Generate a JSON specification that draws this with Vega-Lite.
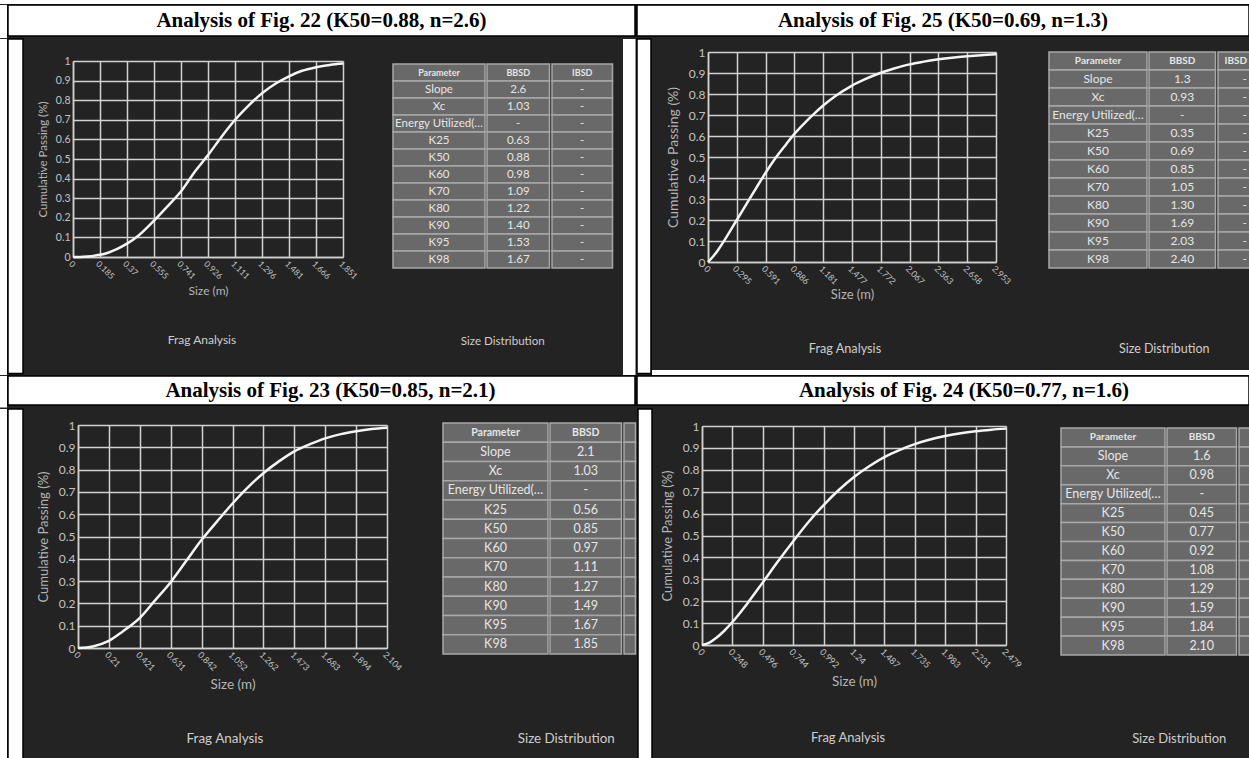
{
"$schema": "https://vega.github.io/schema/vega-lite/v6.json",
"background": "#232323",
"padding": 0,
"spacing": 0,
"datasets": {
"c22": [{"size":0,"passing":0},{"size":0.05,"passing":0.0005},{"size":0.1,"passing":0.003},{"size":0.15,"passing":0.007},{"size":0.185,"passing":0.011},{"size":0.25,"passing":0.024},{"size":0.3,"passing":0.04},{"size":0.37,"passing":0.068},{"size":0.45,"passing":0.11},{"size":0.555,"passing":0.185},{"size":0.65,"passing":0.26},{"size":0.741,"passing":0.335},{"size":0.83,"passing":0.43},{"size":0.926,"passing":0.52},{"size":1.02,"passing":0.615},{"size":1.111,"passing":0.7},{"size":1.2,"passing":0.77},{"size":1.296,"passing":0.835},{"size":1.39,"passing":0.885},{"size":1.481,"passing":0.922},{"size":1.57,"passing":0.95},{"size":1.666,"passing":0.968},{"size":1.76,"passing":0.98},{"size":1.851,"passing":0.987}],
"c25": [{"size":0,"passing":0},{"size":0.05,"passing":0.025},{"size":0.1,"passing":0.055},{"size":0.15,"passing":0.09},{"size":0.2,"passing":0.127},{"size":0.295,"passing":0.2},{"size":0.4,"passing":0.28},{"size":0.5,"passing":0.357},{"size":0.591,"passing":0.425},{"size":0.7,"passing":0.5},{"size":0.8,"passing":0.56},{"size":0.886,"passing":0.61},{"size":1.0,"passing":0.666},{"size":1.1,"passing":0.711},{"size":1.181,"passing":0.745},{"size":1.3,"passing":0.788},{"size":1.477,"passing":0.84},{"size":1.6,"passing":0.868},{"size":1.772,"passing":0.901},{"size":1.9,"passing":0.92},{"size":2.067,"passing":0.941},{"size":2.2,"passing":0.953},{"size":2.363,"passing":0.965},{"size":2.5,"passing":0.973},{"size":2.658,"passing":0.98},{"size":2.8,"passing":0.985},{"size":2.953,"passing":0.989}],
"c23": [{"size":0,"passing":0},{"size":0.1,"passing":0.007},{"size":0.21,"passing":0.032},{"size":0.3,"passing":0.072},{"size":0.421,"passing":0.135},{"size":0.52,"passing":0.21},{"size":0.631,"passing":0.295},{"size":0.74,"passing":0.393},{"size":0.842,"passing":0.485},{"size":0.95,"passing":0.57},{"size":1.052,"passing":0.648},{"size":1.16,"passing":0.723},{"size":1.262,"passing":0.784},{"size":1.37,"passing":0.838},{"size":1.473,"passing":0.882},{"size":1.58,"passing":0.914},{"size":1.683,"passing":0.94},{"size":1.79,"passing":0.959},{"size":1.894,"passing":0.972},{"size":2.0,"passing":0.982},{"size":2.104,"passing":0.988}],
"c24": [{"size":0,"passing":0},{"size":0.06,"passing":0.011},{"size":0.12,"passing":0.034},{"size":0.18,"passing":0.064},{"size":0.248,"passing":0.105},{"size":0.37,"passing":0.19},{"size":0.496,"passing":0.286},{"size":0.62,"passing":0.382},{"size":0.744,"passing":0.474},{"size":0.87,"passing":0.563},{"size":0.992,"passing":0.639},{"size":1.12,"passing":0.71},{"size":1.24,"passing":0.767},{"size":1.36,"passing":0.815},{"size":1.487,"passing":0.858},{"size":1.61,"passing":0.89},{"size":1.735,"passing":0.917},{"size":1.86,"passing":0.938},{"size":1.983,"passing":0.954},{"size":2.11,"passing":0.967},{"size":2.231,"passing":0.976},{"size":2.36,"passing":0.983},{"size":2.479,"passing":0.988}],
"t22": [{"param":"Parameter","bbsd":"BBSD","ibsd":"IBSD"},{"param":"Slope","bbsd":"2.6","ibsd":"-"},{"param":"Xc","bbsd":"1.03","ibsd":"-"},{"param":"Energy Utilized(…","bbsd":"-","ibsd":"-"},{"param":"K25","bbsd":"0.63","ibsd":"-"},{"param":"K50","bbsd":"0.88","ibsd":"-"},{"param":"K60","bbsd":"0.98","ibsd":"-"},{"param":"K70","bbsd":"1.09","ibsd":"-"},{"param":"K80","bbsd":"1.22","ibsd":"-"},{"param":"K90","bbsd":"1.40","ibsd":"-"},{"param":"K95","bbsd":"1.53","ibsd":"-"},{"param":"K98","bbsd":"1.67","ibsd":"-"}],
"t25": [{"param":"Parameter","bbsd":"BBSD","ibsd":"IBSD"},{"param":"Slope","bbsd":"1.3","ibsd":"-"},{"param":"Xc","bbsd":"0.93","ibsd":"-"},{"param":"Energy Utilized(…","bbsd":"-","ibsd":"-"},{"param":"K25","bbsd":"0.35","ibsd":"-"},{"param":"K50","bbsd":"0.69","ibsd":"-"},{"param":"K60","bbsd":"0.85","ibsd":"-"},{"param":"K70","bbsd":"1.05","ibsd":"-"},{"param":"K80","bbsd":"1.30","ibsd":"-"},{"param":"K90","bbsd":"1.69","ibsd":"-"},{"param":"K95","bbsd":"2.03","ibsd":"-"},{"param":"K98","bbsd":"2.40","ibsd":"-"}],
"t23": [{"param":"Parameter","bbsd":"BBSD","ibsd":"IBSD"},{"param":"Slope","bbsd":"2.1","ibsd":"-"},{"param":"Xc","bbsd":"1.03","ibsd":"-"},{"param":"Energy Utilized(…","bbsd":"-","ibsd":"-"},{"param":"K25","bbsd":"0.56","ibsd":"-"},{"param":"K50","bbsd":"0.85","ibsd":"-"},{"param":"K60","bbsd":"0.97","ibsd":"-"},{"param":"K70","bbsd":"1.11","ibsd":"-"},{"param":"K80","bbsd":"1.27","ibsd":"-"},{"param":"K90","bbsd":"1.49","ibsd":"-"},{"param":"K95","bbsd":"1.67","ibsd":"-"},{"param":"K98","bbsd":"1.85","ibsd":"-"}],
"t24": [{"param":"Parameter","bbsd":"BBSD","ibsd":"IBSD"},{"param":"Slope","bbsd":"1.6","ibsd":"-"},{"param":"Xc","bbsd":"0.98","ibsd":"-"},{"param":"Energy Utilized(…","bbsd":"-","ibsd":"-"},{"param":"K25","bbsd":"0.45","ibsd":"-"},{"param":"K50","bbsd":"0.77","ibsd":"-"},{"param":"K60","bbsd":"0.92","ibsd":"-"},{"param":"K70","bbsd":"1.08","ibsd":"-"},{"param":"K80","bbsd":"1.29","ibsd":"-"},{"param":"K90","bbsd":"1.59","ibsd":"-"},{"param":"K95","bbsd":"1.84","ibsd":"-"},{"param":"K98","bbsd":"2.10","ibsd":"-"}],
"titles": [{"fig":"22","t":"Analysis of Fig. 22 (K50=0.88, n=2.6)"},{"fig":"25","t":"Analysis of Fig. 25 (K50=0.69, n=1.3)"},{"fig":"23","t":"Analysis of Fig. 23 (K50=0.85, n=2.1)"},{"fig":"24","t":"Analysis of Fig. 24 (K50=0.77, n=1.6)"}]
},
"vconcat": [
{"width":1249,"height":4,"data":{"values":[]},"mark":"rect","view":{"fill":"white"}},
{"hconcat":[
 {"width":7,"height":33,"data":{"values":[]},"mark":"rect","view":{"fill":"white"}},
 {"width":627,"height":31,"data":{"name":"titles"},"transform":[{"filter":"datum.fig==='22'"}],"mark":{"type":"text","font":"Liberation Serif","fontSize":21,"fontWeight":"bold","color":"black"},"encoding":{"text":{"field":"t"}},"view":{"fill":"white","stroke":"black","strokeWidth":1.5}},
 {"width":612,"height":31,"data":{"name":"titles"},"transform":[{"filter":"datum.fig==='25'"}],"mark":{"type":"text","font":"Liberation Serif","fontSize":21,"fontWeight":"bold","color":"black"},"encoding":{"text":{"field":"t"}},"view":{"fill":"white","stroke":"black","strokeWidth":1.5}}
]},
{"hconcat":[
 {"width":7,"height":336,"data":{"values":[]},"mark":"rect","view":{"fill":"white"}},
 {"width":15,"height":334.5,"data":{"values":[]},"mark":"rect","view":{"fill":"white","stroke":"black","strokeWidth":1.5}},
 {"vconcat":[
  {"hconcat":[
   {"vconcat":[
    {"hconcat":[
     {"width":13,"height":1,"data":{"values":[]},"mark":"rect"},
     {"vconcat":[
      {"width":1,"height":17,"data":{"values":[]},"mark":"rect"},
      {"width":270,"height":196,"data":{"name":"c22"},
       "mark":{"type":"line","color":"#f4f4f4","strokeWidth":2.5,"interpolate":"monotone"},
       "encoding":{
        "x":{"field":"size","type":"quantitative","scale":{"domain":[0,1.851],"nice":false,"zero":true},"axis":{"title":"Size (m)","values":[0,0.185,0.37,0.555,0.741,0.926,1.111,1.296,1.481,1.666,1.851],"labelExpr":"'' + datum.value","labelFontSize":8.5,"titleFontSize":12,"titlePadding":5}},
        "y":{"field":"passing","type":"quantitative","scale":{"domain":[0,1],"nice":false},"axis":{"title":"Cumulative Passing (%)","values":[0,0.1,0.2,0.3,0.4,0.5,0.6,0.7,0.8,0.9,1],"labelExpr":"'' + datum.value","labelFontSize":10.5,"titleFontSize":11.5,"titlePadding":7}}
       },
       "title":{"text":"Frag Analysis","orient":"bottom","offset":38.6,"frame":"group","dx":-6,"fontSize":12}
      }
     ]}
    ]},
    {"width":367.75,"height":1,"data":{"values":[]},"mark":"rect"}
   ]},
   {"vconcat":[
    {"width":1,"height":23.5,"data":{"values":[]},"mark":"rect"},
    {"title":{"text":"Size Distribution","orient":"bottom","anchor":"middle","offset":67.5,"fontSize":11.6},
     "hconcat":[
     {"width":92,"height":204,"data":{"name":"t22"},"encoding":{"y":{"field":"param","type":"nominal","axis":null,"scale":{"domain":["Parameter","Slope","Xc","Energy Utilized(…","K25","K50","K60","K70","K80","K90","K95","K98"],"paddingInner":0,"paddingOuter":0}}},
      "layer":[
       {"mark":{"type":"rect","fill":"#696969","stroke":"#a8a8a8","strokeWidth":1.5}},
       {"transform":[{"filter":"datum.param !== 'Parameter'"}],"mark":{"type":"text","font":"Lato","fontSize":11.5,"color":"#e6e6e6"},"encoding":{"text":{"field":"param"}}},
       {"transform":[{"filter":"datum.param === 'Parameter'"}],"mark":{"type":"text","font":"Lato","fontSize":9,"fontWeight":"bold","color":"#e6e6e6"},"encoding":{"text":{"field":"param"}}}
      ]},
     {"width":62.5,"height":204,"data":{"name":"t22"},"encoding":{"y":{"field":"param","type":"nominal","axis":null,"scale":{"domain":["Parameter","Slope","Xc","Energy Utilized(…","K25","K50","K60","K70","K80","K90","K95","K98"],"paddingInner":0,"paddingOuter":0}}},
      "layer":[
       {"mark":{"type":"rect","fill":"#696969","stroke":"#a8a8a8","strokeWidth":1.5}},
       {"transform":[{"filter":"datum.param !== 'Parameter'"}],"mark":{"type":"text","font":"Lato","fontSize":11.5,"color":"#e6e6e6"},"encoding":{"text":{"field":"bbsd"}}},
       {"transform":[{"filter":"datum.param === 'Parameter'"}],"mark":{"type":"text","font":"Lato","fontSize":9,"fontWeight":"bold","color":"#e6e6e6"},"encoding":{"text":{"field":"bbsd"}}}
      ]},
     {"width":60.5,"height":204,"data":{"name":"t22"},"encoding":{"y":{"field":"param","type":"nominal","axis":null,"scale":{"domain":["Parameter","Slope","Xc","Energy Utilized(…","K25","K50","K60","K70","K80","K90","K95","K98"],"paddingInner":0,"paddingOuter":0}}},
      "layer":[
       {"mark":{"type":"rect","fill":"#696969","stroke":"#a8a8a8","strokeWidth":1.5}},
       {"transform":[{"filter":"datum.param !== 'Parameter'"}],"mark":{"type":"text","font":"Lato","fontSize":11.5,"color":"#e6e6e6"},"encoding":{"text":{"field":"ibsd"}}},
       {"transform":[{"filter":"datum.param === 'Parameter'"}],"mark":{"type":"text","font":"Lato","fontSize":9,"fontWeight":"bold","color":"#e6e6e6"},"encoding":{"text":{"field":"ibsd"}}}
      ]}
    ]}
   ]}
  ]},
  {"width":599,"height":1,"data":{"values":[]},"mark":"rect"}
 ]},
 {"width":12.5,"height":336,"data":{"values":[]},"mark":"rect","view":{"fill":"white"}},
 {"width":14,"height":334.5,"data":{"values":[]},"mark":"rect","view":{"fill":"white","stroke":"black","strokeWidth":1.5}},
 {"vconcat":[
  {"hconcat":[
   {"width":1,"height":331,"data":{"values":[]},"mark":"rect"},
   {"vconcat":[
    {"hconcat":[
     {"width":12.5,"height":1,"data":{"values":[]},"mark":"rect"},
     {"vconcat":[
      {"width":1,"height":7,"data":{"values":[]},"mark":"rect"},
      {"width":288,"height":210,"data":{"name":"c25"},
       "mark":{"type":"line","color":"#f4f4f4","strokeWidth":2.5,"interpolate":"monotone"},
       "encoding":{
        "x":{"field":"size","type":"quantitative","scale":{"domain":[0,2.953],"nice":false,"zero":true},"axis":{"title":"Size (m)","values":[0,0.295,0.591,0.886,1.181,1.477,1.772,2.067,2.363,2.658,2.953],"labelExpr":"'' + datum.value","labelFontSize":8.7,"titleFontSize":13,"titlePadding":3}},
        "y":{"field":"passing","type":"quantitative","scale":{"domain":[0,1],"nice":false},"axis":{"title":"Cumulative Passing (%)","values":[0,0.1,0.2,0.3,0.4,0.5,0.6,0.7,0.8,0.9,1],"labelExpr":"'' + datum.value","labelFontSize":12,"titleFontSize":14,"titlePadding":8}}
       },
       "title":{"text":"Frag Analysis","orient":"bottom","offset":41.4,"frame":"group","dx":-7,"fontSize":12.7}
      }
     ]}
    ]},
    {"width":394.75,"height":1,"data":{"values":[]},"mark":"rect"}
   ]},
   {"vconcat":[
    {"width":1,"height":12,"data":{"values":[]},"mark":"rect"},
    {"title":{"text":"Size Distribution","orient":"bottom","anchor":"middle","offset":74,"fontSize":12.5,"dx":14},
     "hconcat":[
     {"width":98,"height":216,"data":{"name":"t25"},"encoding":{"y":{"field":"param","type":"nominal","axis":null,"scale":{"domain":["Parameter","Slope","Xc","Energy Utilized(…","K25","K50","K60","K70","K80","K90","K95","K98"],"paddingInner":0,"paddingOuter":0}}},
      "layer":[
       {"mark":{"type":"rect","fill":"#696969","stroke":"#a8a8a8","strokeWidth":1.5}},
       {"transform":[{"filter":"datum.param !== 'Parameter'"}],"mark":{"type":"text","font":"Lato","fontSize":12,"color":"#e6e6e6"},"encoding":{"text":{"field":"param"}}},
       {"transform":[{"filter":"datum.param === 'Parameter'"}],"mark":{"type":"text","font":"Lato","fontSize":10,"fontWeight":"bold","color":"#e6e6e6"},"encoding":{"text":{"field":"param"}}}
      ]},
     {"width":66.5,"height":216,"data":{"name":"t25"},"encoding":{"y":{"field":"param","type":"nominal","axis":null,"scale":{"domain":["Parameter","Slope","Xc","Energy Utilized(…","K25","K50","K60","K70","K80","K90","K95","K98"],"paddingInner":0,"paddingOuter":0}}},
      "layer":[
       {"mark":{"type":"rect","fill":"#696969","stroke":"#a8a8a8","strokeWidth":1.5}},
       {"transform":[{"filter":"datum.param !== 'Parameter'"}],"mark":{"type":"text","font":"Lato","fontSize":12,"color":"#e6e6e6"},"encoding":{"text":{"field":"bbsd"}}},
       {"transform":[{"filter":"datum.param === 'Parameter'"}],"mark":{"type":"text","font":"Lato","fontSize":10,"fontWeight":"bold","color":"#e6e6e6"},"encoding":{"text":{"field":"bbsd"}}}
      ]},
     {"width":33.5,"height":216,"data":{"name":"t25"},"encoding":{"y":{"field":"param","type":"nominal","axis":null,"scale":{"domain":["Parameter","Slope","Xc","Energy Utilized(…","K25","K50","K60","K70","K80","K90","K95","K98"],"paddingInner":0,"paddingOuter":0}}},
      "layer":[
       {"mark":{"type":"rect","fill":"#696969","stroke":"#a8a8a8","strokeWidth":1.5}},
       {"transform":[{"filter":"datum.param !== 'Parameter'"}],"mark":{"type":"text","font":"Lato","fontSize":12,"color":"#e6e6e6","dx":10},"encoding":{"text":{"field":"ibsd"}}},
       {"transform":[{"filter":"datum.param === 'Parameter'"}],"mark":{"type":"text","font":"Lato","fontSize":10,"fontWeight":"bold","color":"#e6e6e6","dx":1},"encoding":{"text":{"field":"ibsd"}}}
      ]}
    ]}
   ]}
  ]},
  {"width":598.5,"height":5,"data":{"values":[]},"mark":"rect","view":{"fill":"white"}}
 ]}
]},
{"hconcat":[
 {"width":7,"height":31.5,"data":{"values":[]},"mark":"rect","view":{"fill":"white"}},
 {"width":627,"height":29,"data":{"name":"titles"},"transform":[{"filter":"datum.fig==='23'"}],"mark":{"type":"text","font":"Liberation Serif","fontSize":21,"fontWeight":"bold","color":"black","dx":9},"encoding":{"text":{"field":"t"}},"view":{"fill":"white","stroke":"black","strokeWidth":1.5}},
 {"width":612,"height":29,"data":{"name":"titles"},"transform":[{"filter":"datum.fig==='24'"}],"mark":{"type":"text","font":"Liberation Serif","fontSize":21,"fontWeight":"bold","color":"black","dx":21},"encoding":{"text":{"field":"t"}},"view":{"fill":"white","stroke":"black","strokeWidth":1.5}}
]},
{"hconcat":[
 {"width":7,"height":354,"data":{"values":[]},"mark":"rect","view":{"fill":"white"}},
 {"width":15,"height":352.5,"data":{"values":[]},"mark":"rect","view":{"fill":"white","stroke":"black","strokeWidth":1.5}},
 {"vconcat":[
  {"hconcat":[
   {"vconcat":[
    {"hconcat":[
     {"width":12.6,"height":1,"data":{"values":[]},"mark":"rect"},
     {"vconcat":[
      {"width":1,"height":9.5,"data":{"values":[]},"mark":"rect"},
      {"width":309,"height":223,"data":{"name":"c23"},
       "mark":{"type":"line","color":"#f4f4f4","strokeWidth":2.5,"interpolate":"monotone"},
       "encoding":{
        "x":{"field":"size","type":"quantitative","scale":{"domain":[0,2.104],"nice":false,"zero":true},"axis":{"title":"Size (m)","values":[0,0.21,0.421,0.631,0.842,1.052,1.262,1.473,1.683,1.894,2.104],"labelExpr":"'' + datum.value","labelFontSize":8.8,"titleFontSize":13.5,"titlePadding":5}},
        "y":{"field":"passing","type":"quantitative","scale":{"domain":[0,1],"nice":false},"axis":{"title":"Cumulative Passing (%)","values":[0,0.1,0.2,0.3,0.4,0.5,0.6,0.7,0.8,0.9,1],"labelExpr":"'' + datum.value","labelFontSize":12,"titleFontSize":13,"titlePadding":8}}
       },
       "title":{"text":"Frag Analysis","orient":"bottom","offset":41.4,"frame":"group","dx":-7.5,"fontSize":13.5}
      }
     ]}
    ]},
    {"width":417.75,"height":1,"data":{"values":[]},"mark":"rect"}
   ]},
   {"vconcat":[
    {"width":1,"height":12.6,"data":{"values":[]},"mark":"rect"},
    {"title":{"text":"Size Distribution","orient":"bottom","anchor":"middle","offset":77,"fontSize":13.4,"dx":27},
     "hconcat":[
     {"width":105,"height":231,"data":{"name":"t23"},"encoding":{"y":{"field":"param","type":"nominal","axis":null,"scale":{"domain":["Parameter","Slope","Xc","Energy Utilized(…","K25","K50","K60","K70","K80","K90","K95","K98"],"paddingInner":0,"paddingOuter":0}}},
      "layer":[
       {"mark":{"type":"rect","fill":"#696969","stroke":"#a8a8a8","strokeWidth":1.5}},
       {"transform":[{"filter":"datum.param !== 'Parameter'"}],"mark":{"type":"text","font":"Lato","fontSize":12.5,"color":"#e6e6e6"},"encoding":{"text":{"field":"param"}}},
       {"transform":[{"filter":"datum.param === 'Parameter'"}],"mark":{"type":"text","font":"Lato","fontSize":10.5,"fontWeight":"bold","color":"#e6e6e6"},"encoding":{"text":{"field":"param"}}}
      ]},
     {"width":71.5,"height":231,"data":{"name":"t23"},"encoding":{"y":{"field":"param","type":"nominal","axis":null,"scale":{"domain":["Parameter","Slope","Xc","Energy Utilized(…","K25","K50","K60","K70","K80","K90","K95","K98"],"paddingInner":0,"paddingOuter":0}}},
      "layer":[
       {"mark":{"type":"rect","fill":"#696969","stroke":"#a8a8a8","strokeWidth":1.5}},
       {"transform":[{"filter":"datum.param !== 'Parameter'"}],"mark":{"type":"text","font":"Lato","fontSize":12.5,"color":"#e6e6e6"},"encoding":{"text":{"field":"bbsd"}}},
       {"transform":[{"filter":"datum.param === 'Parameter'"}],"mark":{"type":"text","font":"Lato","fontSize":10.5,"fontWeight":"bold","color":"#e6e6e6"},"encoding":{"text":{"field":"bbsd"}}}
      ]},
     {"width":11.5,"height":231,"data":{"name":"t23"},"encoding":{"y":{"field":"param","type":"nominal","axis":null,"scale":{"domain":["Parameter","Slope","Xc","Energy Utilized(…","K25","K50","K60","K70","K80","K90","K95","K98"],"paddingInner":0,"paddingOuter":0}}},
      "mark":{"type":"rect","fill":"#696969","stroke":"#a8a8a8","strokeWidth":1.5}}
    ]}
   ]}
  ]},
  {"width":610,"height":1,"data":{"values":[]},"mark":"rect"}
 ]},
 {"width":14,"height":352.5,"data":{"values":[]},"mark":"rect","view":{"fill":"white","stroke":"black","strokeWidth":1.5}},
 {"vconcat":[
  {"hconcat":[
   {"vconcat":[
    {"hconcat":[
     {"width":7.85,"height":1,"data":{"values":[]},"mark":"rect"},
     {"vconcat":[
      {"width":1,"height":11,"data":{"values":[]},"mark":"rect"},
      {"width":304,"height":219,"data":{"name":"c24"},
       "mark":{"type":"line","color":"#f4f4f4","strokeWidth":2.5,"interpolate":"monotone"},
       "encoding":{
        "x":{"field":"size","type":"quantitative","scale":{"domain":[0,2.479],"nice":false,"zero":true},"axis":{"title":"Size (m)","values":[0,0.248,0.496,0.744,0.992,1.24,1.487,1.735,1.983,2.231,2.479],"labelExpr":"'' + datum.value","labelFontSize":9,"titleFontSize":13.5,"titlePadding":4.5}},
        "y":{"field":"passing","type":"quantitative","scale":{"domain":[0,1],"nice":false},"axis":{"title":"Cumulative Passing (%)","values":[0,0.1,0.2,0.3,0.4,0.5,0.6,0.7,0.8,0.9,1],"labelExpr":"'' + datum.value","labelFontSize":12,"titleFontSize":13,"titlePadding":8}}
       },
       "title":{"text":"Frag Analysis","orient":"bottom","offset":44.5,"frame":"group","dx":-6,"fontSize":13}
      }
     ]}
    ]},
    {"width":407,"height":1,"data":{"values":[]},"mark":"rect"}
   ]},
   {"vconcat":[
    {"width":1,"height":17.5,"data":{"values":[]},"mark":"rect"},
    {"title":{"text":"Size Distribution","orient":"bottom","anchor":"middle","offset":77.5,"fontSize":13,"dx":22},
     "hconcat":[
     {"width":104,"height":227,"data":{"name":"t24"},"encoding":{"y":{"field":"param","type":"nominal","axis":null,"scale":{"domain":["Parameter","Slope","Xc","Energy Utilized(…","K25","K50","K60","K70","K80","K90","K95","K98"],"paddingInner":0,"paddingOuter":0}}},
      "layer":[
       {"mark":{"type":"rect","fill":"#696969","stroke":"#a8a8a8","strokeWidth":1.5}},
       {"transform":[{"filter":"datum.param !== 'Parameter'"}],"mark":{"type":"text","font":"Lato","fontSize":12.5,"color":"#e6e6e6"},"encoding":{"text":{"field":"param"}}},
       {"transform":[{"filter":"datum.param === 'Parameter'"}],"mark":{"type":"text","font":"Lato","fontSize":10,"fontWeight":"bold","color":"#e6e6e6"},"encoding":{"text":{"field":"param"}}}
      ]},
     {"width":69.5,"height":227,"data":{"name":"t24"},"encoding":{"y":{"field":"param","type":"nominal","axis":null,"scale":{"domain":["Parameter","Slope","Xc","Energy Utilized(…","K25","K50","K60","K70","K80","K90","K95","K98"],"paddingInner":0,"paddingOuter":0}}},
      "layer":[
       {"mark":{"type":"rect","fill":"#696969","stroke":"#a8a8a8","strokeWidth":1.5}},
       {"transform":[{"filter":"datum.param !== 'Parameter'"}],"mark":{"type":"text","font":"Lato","fontSize":12.5,"color":"#e6e6e6"},"encoding":{"text":{"field":"bbsd"}}},
       {"transform":[{"filter":"datum.param === 'Parameter'"}],"mark":{"type":"text","font":"Lato","fontSize":10,"fontWeight":"bold","color":"#e6e6e6"},"encoding":{"text":{"field":"bbsd"}}}
      ]},
     {"width":14.5,"height":227,"data":{"name":"t24"},"encoding":{"y":{"field":"param","type":"nominal","axis":null,"scale":{"domain":["Parameter","Slope","Xc","Energy Utilized(…","K25","K50","K60","K70","K80","K90","K95","K98"],"paddingInner":0,"paddingOuter":0}}},
      "mark":{"type":"rect","fill":"#696969","stroke":"#a8a8a8","strokeWidth":1.5}}
    ]}
   ]}
  ]},
  {"width":599,"height":1,"data":{"values":[]},"mark":"rect"}
 ]}
]}
],
"config": {
 "view": {"stroke": null},
 "concat": {"spacing": 0},
 "axis": {"grid": true, "gridColor": "#d2d2d2", "gridWidth": 1.5, "gridOpacity": 1, "domainColor": "#d2d2d2", "domainWidth": 1.5, "ticks": false, "labelColor": "#c4c4c4", "labelFont": "Lato", "titleFont": "Lato", "titleColor": "#b4b4b4", "titleFontWeight": "normal", "labelPadding": 3, "labelOverlap": false, "labelFlush": false},
 "axisX": {"labelAngle": 45, "labelPadding": 2},
 "title": {"font": "Lato", "fontWeight": "normal", "color": "#cdcdcd"}
}
}
